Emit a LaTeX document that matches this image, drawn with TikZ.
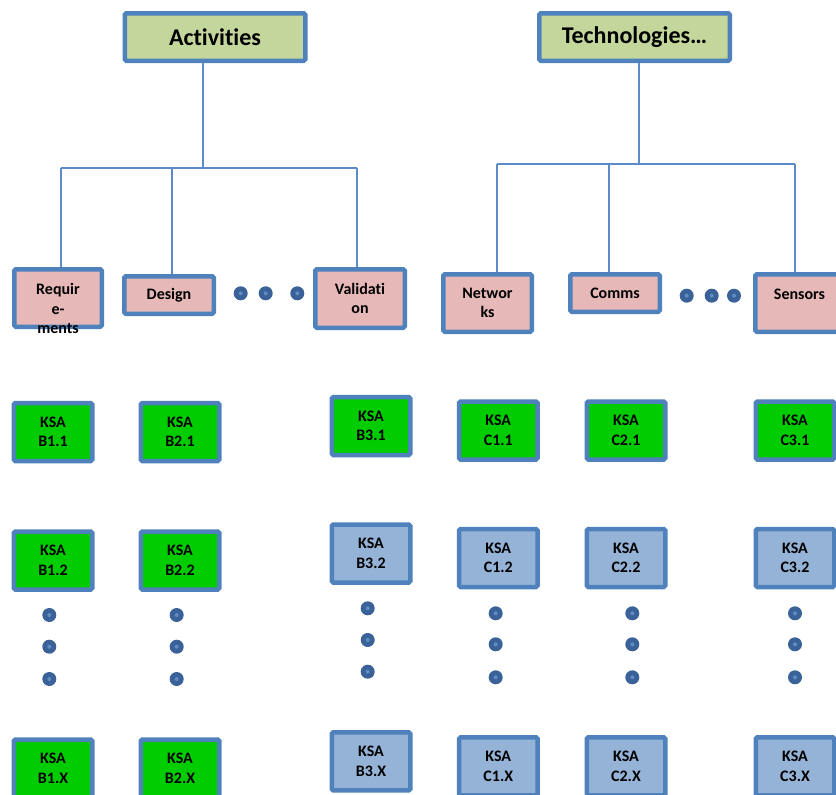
\documentclass[tikz,border=0pt]{standalone}
\usepackage{fontspec}
\setmainfont{Carlito}[Ligatures=NoCommon]
\definecolor{bord}{RGB}{79,129,189}
\definecolor{linec}{RGB}{91,139,200}
\definecolor{titlefill}{RGB}{195,214,155}
\definecolor{catfill}{RGB}{230,185,184}
\definecolor{ksagreen}{RGB}{0,204,0}
\definecolor{ksablue}{RGB}{149,179,215}
\definecolor{dotc}{RGB}{58,98,152}
\definecolor{dotin}{RGB}{96,140,196}
\begin{document}
\begin{tikzpicture}[x=1pt,y=-1pt,
  box/.style={draw=bord, line width=4.5pt, rounded corners=1.5pt, inner sep=0pt,
    align=center, text=black, font=\bfseries\fontsize{16}{19.5}\selectfont},
  title/.style={box, fill=titlefill, minimum height=47.5pt,
    font=\bfseries\fontsize{24}{28}\selectfont},
  cat/.style={box, fill=catfill},
  ksa/.style={box, fill=ksagreen, minimum width=78.5pt, minimum height=58pt},
  ksab/.style={ksa, fill=ksablue},
  lbl/.style={inner sep=0pt, align=center, text=black,
    font=\bfseries\fontsize{16}{19.5}\selectfont},
  conn/.style={draw=linec, line width=2pt},
  dot/.style={circle, fill=dotc, minimum size=14pt, inner sep=0pt,
    path picture={\fill[dotin] (path picture bounding box.center) circle (2pt);}}
]
\useasboundingbox (0,0) rectangle (836,795);
\clip (0,0) rectangle (836,795);

% top-level headings
\node[title, minimum width=180.5pt] (act) at (215,37) {Activities};
\node[title, minimum width=190.5pt] (tech) at (634.5,37) {Technologies…};

% second level: activities
\node[cat, minimum width=87.5pt, minimum height=57.5pt] (req) at (58,298) {};
\node[lbl] (reqt) at (58,308.5) {Requir\\e-\\ments};
\node[cat, minimum width=89.5pt, minimum height=37.5pt] (des) at (169,295) {Design};
\node[cat, minimum width=89.5pt, minimum height=58.5pt] (val) at (360,298.5) {Validati\\on};

% second level: technologies
\node[cat, minimum width=88.5pt, minimum height=57.5pt] (net) at (487.5,303) {Networ\\ks};
\node[cat, minimum width=89.5pt, minimum height=37.5pt] (com) at (615,293) {Comms};
\node[cat, minimum width=88.5pt, minimum height=57.5pt] (sen) at (799.5,303) {};
\node[lbl] (sent) at (799.5,294) {Sensors};

% ellipsis dots between categories
\node[dot] (ra1) at (240.7,293.3) {};
\node[dot] (ra2) at (265.7,293.3) {};
\node[dot] (ra3) at (297.3,293.3) {};
\node[dot] (rt1) at (686.7,295.7) {};
\node[dot] (rt2) at (711.7,295.7) {};
\node[dot] (rt3) at (734,295.7) {};

% tree connectors: activities
\coordinate (ja)  at (203,167.5);
\coordinate (ja1) at (61,167.5);
\coordinate (ja2) at (172,167.5);
\coordinate (ja3) at (357,167.5);
\draw[conn] (act.south -| ja) -- (ja);
\draw[conn] (ja1) -- (ja3);
\draw[conn] (ja1) -- (ja1 |- req.north);
\draw[conn] (ja2) -- (ja2 |- des.north);
\draw[conn] (ja3) -- (ja3 |- val.north);

% tree connectors: technologies
\coordinate (jt)  at (639,163.5);
\coordinate (jt1) at (497,163.5);
\coordinate (jt2) at (609,163.5);
\coordinate (jt3) at (794.5,163.5);
\draw[conn] (tech.south -| jt) -- (jt);
\draw[conn] (jt1) -- (jt3);
\draw[conn] (jt1) -- (jt1 |- net.north);
\draw[conn] (jt2) -- (jt2 |- com.north);
\draw[conn] (jt3) -- (jt3 |- sen.north);

% KSA boxes, first row
\node[ksa] (b11) at (53,432) {KSA\\B1.1};
\node[ksa] (b21) at (180,432) {KSA\\B2.1};
\node[ksa] (b31) at (371,426) {KSA\\B3.1};
\node[ksa] (c11) at (498.3,430.5) {KSA\\C1.1};
\node[ksa] (c21) at (626,430.5) {KSA\\C2.1};
\node[ksa] (c31) at (795,430.5) {KSA\\C3.1};

% KSA boxes, second row
\node[ksa]  (b12) at (53,560.5) {KSA\\B1.2};
\node[ksa]  (b22) at (180,560.5) {KSA\\B2.2};
\node[ksab] (b32) at (371,553.5) {KSA\\B3.2};
\node[ksab] (c12) at (498.3,558) {KSA\\C1.2};
\node[ksab] (c22) at (626,558) {KSA\\C2.2};
\node[ksab] (c32) at (795,558) {KSA\\C3.2};

% vertical ellipsis dots
\foreach \n/\x/\ya/\yb/\yc in {b1/49.3/615/646.7/679, b2/176.7/615/646.7/679,
    b3/367.7/608.3/640/671.7, c1/495.7/613.3/644.3/677.3,
    c2/632.3/613.3/644.3/677.3, c3/795/613.3/644.3/677.3}{
  \node[dot] (\n-d1) at (\x,\ya) {};
  \node[dot] (\n-d2) at (\x,\yb) {};
  \node[dot] (\n-d3) at (\x,\yc) {};
}

% KSA boxes, last row
\node[ksa]  (b1x) at (53,768.5) {KSA\\B1.X};
\node[ksa]  (b2x) at (180,768.5) {KSA\\B2.X};
\node[ksab] (b3x) at (371,761.4) {KSA\\B3.X};
\node[ksab] (c1x) at (498.3,766.4) {KSA\\C1.X};
\node[ksab] (c2x) at (626,766.4) {KSA\\C2.X};
\node[ksab] (c3x) at (795,766.4) {KSA\\C3.X};
\end{tikzpicture}
\end{document}
